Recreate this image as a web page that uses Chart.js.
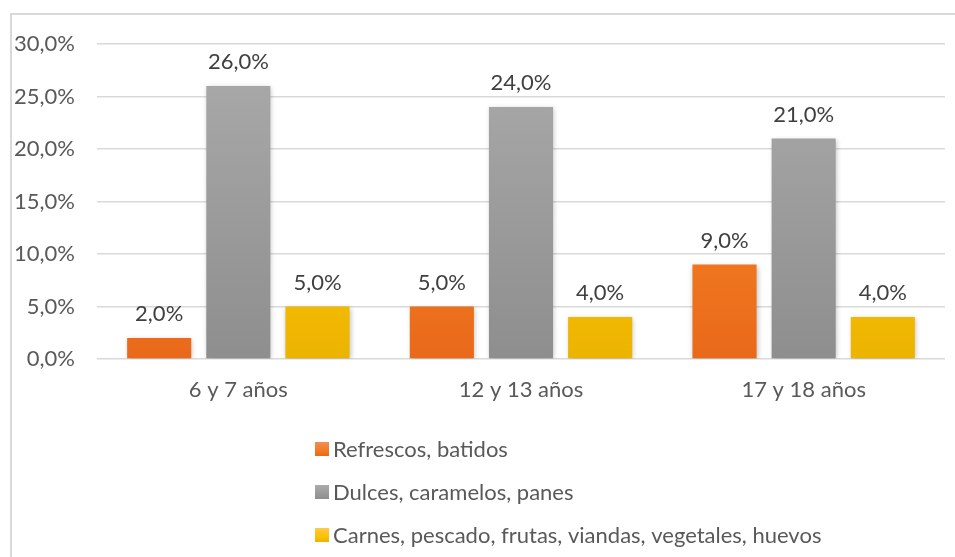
<!DOCTYPE html>
<html>
<head>
<meta charset="utf-8">
<script src="https://cdn.jsdelivr.net/npm/chart.js@4"></script>
<style>
  html, body { margin: 0; padding: 0; background: #ffffff; }
  #wrap { width: 955px; height: 557px; }
</style>
</head>
<body>
<div id="wrap"><canvas id="main-chart" width="955" height="557"></canvas></div>
<script>
// chart values
const categories = ["6 y 7 años", "12 y 13 años", "17 y 18 años"];
const series_names = ["Refrescos, batidos", "Dulces, caramelos, panes", "Carnes, pescado, frutas, viandas, vegetales, huevos"];
const refrescos = [2, 5, 9];
const dulces = [26, 24, 21];
const carnes = [5, 4, 4];

// top, middle and bottom colours of each bar gradient
const grad_colors = [
    ["#f08d55", "#f47c22", "#e8691a"],
    ["#ababab", "#9b9b9b", "#8e8e8e"],
    ["#ffc94a", "#ffc208", "#ebb400"]
];

const font_name = "Lato, 'Open Sans', sans-serif";
const font_size = 22;
const text_color = "#595959";

function fmt(v)
{
    return v.toFixed(1).replace(".", ",") + "%";
}

function makeGradient(ctx, idx, top, bottom)
{
    const g = ctx.createLinearGradient(0, top, 0, bottom);
    g.addColorStop(0, grad_colors[idx][0]);
    g.addColorStop(0.55, grad_colors[idx][1]);
    g.addColorStop(1, grad_colors[idx][2]);
    return g;
}

function barGradient(idx)
{
    return function(context) {
        const chart = context.chart;
        const area = chart.chartArea;
        if (!area) return grad_colors[idx][1];
        const el = context.element;
        let top = area.top, bottom = area.bottom;
        if (el && el.y !== undefined) { top = el.y; bottom = el.base; }
        if (!isFinite(top) || !isFinite(bottom) || top === bottom) return grad_colors[idx][1];
        return makeGradient(chart.ctx, idx, top, bottom);
    };
}

// outer frame of the chart
const framePlugin = {
    id: "frame",
    beforeDraw(chart) {
        const ctx = chart.ctx;
        ctx.save();
        ctx.fillStyle = "#ffffff";
        ctx.fillRect(0, 0, chart.width, chart.height);
        ctx.strokeStyle = "#d9d9d9";
        ctx.lineWidth = 2;
        ctx.strokeRect(11, 14, 960, 560);
        ctx.restore();
    }
};

// soft shadow behind bars
const shadowPlugin = {
    id: "barShadow",
    beforeDatasetsDraw(chart) {
        const ctx = chart.ctx;
        ctx.save();
        ctx.shadowColor = "rgba(0,0,0,0.25)";
        ctx.shadowBlur = 5;
        ctx.shadowOffsetX = 1;
        ctx.shadowOffsetY = 1;
    },
    afterDatasetsDraw(chart) {
        chart.ctx.restore();
    }
};

// value labels above the bars
const labelPlugin = {
    id: "valueLabels",
    afterDatasetsDraw(chart) {
        const ctx = chart.ctx;
        ctx.save();
        ctx.font = font_size + "px " + font_name;
        ctx.fillStyle = "#404040";
        ctx.textAlign = "center";
        ctx.textBaseline = "bottom";
        chart.data.datasets.forEach((ds, i) => {
            const meta = chart.getDatasetMeta(i);
            meta.data.forEach((bar, j) => {
                ctx.fillText(fmt(ds.data[j]), bar.x, bar.y - 13);
            });
        });
        ctx.restore();
    }
};

// vertical legend under the plot, left aligned
const legendPlugin = {
    id: "vertLegend",
    afterDraw(chart) {
        const ctx = chart.ctx;
        ctx.save();
        ctx.font = font_size + "px " + font_name;
        ctx.textBaseline = "middle";
        ctx.textAlign = "left";
        const x0 = 315;
        const rows = [449, 492, 535];
        chart.data.datasets.forEach((ds, i) => {
            const y = rows[i];
            ctx.fillStyle = makeGradient(ctx, i, y - 7, y + 7);
            ctx.fillRect(x0, y - 7, 14, 14);
            ctx.fillStyle = text_color;
            ctx.fillText(ds.label, x0 + 18, y + 1);
        });
        ctx.restore();
    }
};

const data_values = [refrescos, dulces, carnes];

const config = {
    type: "bar",
    data: {
        labels: categories,
        datasets: series_names.map((name, i) => ({
            label: name,
            data: data_values[i],
            backgroundColor: barGradient(i),
            borderWidth: 0,
            barPercentage: 0.81,
            categoryPercentage: 0.84
        }))
    },
    options: {
        responsive: false,
        animation: false,
        layout: {
            padding: { left: 0, right: 10, top: 44, bottom: 148 }
        },
        plugins: {
            legend: { display: false },
            title: { display: false },
            tooltip: { enabled: false }
        },
        scales: {
            x: {
                grid: { display: false, drawTicks: false },
                border: { display: false },
                ticks: {
                    color: text_color,
                    font: { family: font_name, size: font_size },
                    padding: 18
                },
                afterFit(scale) { scale.height = 50; }
            },
            y: {
                min: 0,
                max: 30,
                grid: { color: "#d9d9d9", lineWidth: 1.5, drawTicks: false },
                border: { display: false },
                ticks: {
                    stepSize: 5,
                    color: text_color,
                    font: { family: font_name, size: font_size },
                    padding: 22,
                    callback: (v) => fmt(v)
                },
                afterFit(scale) { scale.width = 97; }
            }
        }
    },
    plugins: [framePlugin, shadowPlugin, labelPlugin, legendPlugin]
};

const main_chart = new Chart(document.getElementById("main-chart").getContext("2d"), config);
</script>
</body>
</html>
